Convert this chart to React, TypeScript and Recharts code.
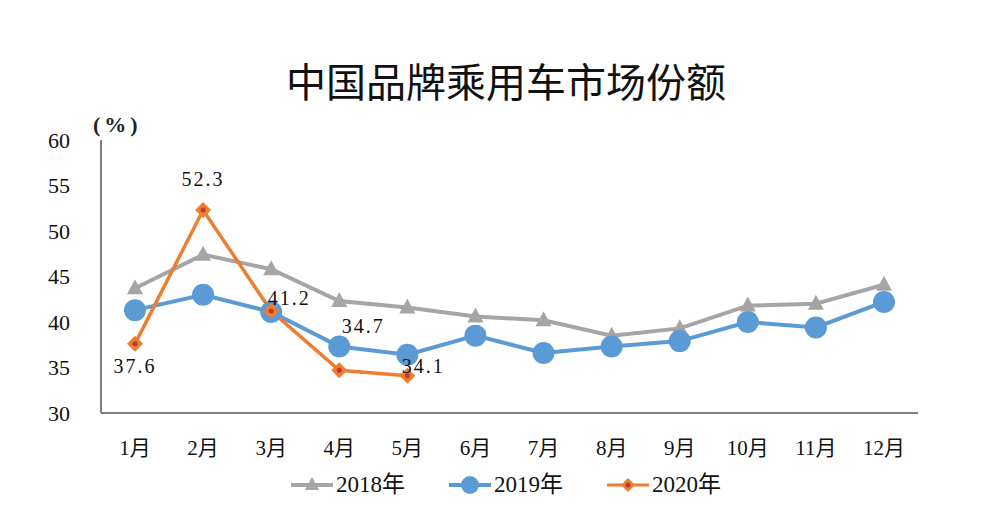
import React from 'react';
import { LineChart, Line, XAxis, YAxis, LabelList } from 'recharts';

const months = ['1月', '2月', '3月', '4月', '5月', '6月', '7月', '8月', '9月', '10月', '11月', '12月'];
const share2018 = [43.7, 47.4, 45.8, 42.3, 41.6, 40.6, 40.2, 38.5, 39.3, 41.8, 42.0, 44.1];
const share2019 = [41.3, 43.0, 41.1, 37.3, 36.4, 38.5, 36.6, 37.3, 37.9, 40.0, 39.4, 42.2];
const share2020 = [37.6, 52.3, 41.2, 34.7, 34.1];
const yTicks = [30, 35, 40, 45, 50, 55, 60];
const seriesNames = ['2018年', '2019年', '2020年'];
const title = '中国品牌乘用车市场份额';
const unitLabel = '(%)';

const data = months.map((m, i) => ({
  month: m,
  s2018: share2018[i],
  s2019: share2019[i],
  s2020: i < share2020.length ? share2020[i] : null,
}));

const GRAY = '#A5A5A5';
const BLUE = '#5B9BD5';
const ORANGE = '#ED7D31';
const SERIF = "'Liberation Serif', 'Noto Sans CJK SC', serif";

const TriangleDot = (props: any) => {
  const { cx, cy } = props;
  if (cx == null || cy == null) return null;
  return <polygon points={`${cx},${cy - 9} ${cx - 8},${cy + 6} ${cx + 8},${cy + 6}`} fill={GRAY} />;
};
const CircleDot = (props: any) => {
  const { cx, cy } = props;
  if (cx == null || cy == null) return null;
  return <circle cx={cx} cy={cy} r={11} fill={BLUE} />;
};
const DiamondDot = (props: any) => {
  const { cx, cy, value } = props;
  if (cx == null || cy == null || value == null) return null;
  return (
    <g>
      <polygon points={`${cx},${cy - 8} ${cx + 8},${cy} ${cx},${cy + 8} ${cx - 8},${cy}`} fill={ORANGE} />
      <circle cx={cx} cy={cy} r={2.5} fill="#C0392B" />
    </g>
  );
};

// label placement relative to each 2020 point (style, not data)
const labelShift = [
  [0, 22],
  [0, -31],
  [18, -13],
  [24, -44],
  [16, -10],
];

const Label2020 = (props: any) => {
  const { x, y, value, index } = props;
  if (value == null || x == null) return null;
  const [dx, dy] = labelShift[index] || [0, -15];
  return (
    <text
      x={x + dx}
      y={y + dy}
      textAnchor="middle"
      dominantBaseline="central"
      fontFamily={SERIF}
      fontSize={20}
      letterSpacing={2}
      fill="#111"
    >
      {Number(value).toFixed(1)}
    </text>
  );
};

const LegendIcon = ({ kind }: { kind: number }) => {
  const color = [GRAY, BLUE, ORANGE][kind];
  return (
    <svg width={42} height={22} style={{ display: 'block' }}>
      <line x1={0} y1={11} x2={42} y2={11} stroke={color} strokeWidth={kind === 2 ? 3 : 4} />
      {kind === 0 && <polygon points="21,3 14,16 28,16" fill={GRAY} />}
      {kind === 1 && <circle cx={21} cy={11} r={9} fill={BLUE} />}
      {kind === 2 && (
        <g>
          <polygon points="21,4 28,11 21,18 14,11" fill={ORANGE} />
          <circle cx={21} cy={11} r={2.5} fill="#C0392B" />
        </g>
      )}
    </svg>
  );
};

export default function App() {
  return (
    <div
      style={{
        position: 'absolute',
        left: 0,
        top: 0,
        width: 1000,
        height: 531,
        background: '#fff',
        overflow: 'hidden',
      }}
    >
      <div
        style={{
          position: 'absolute',
          top: 56,
          left: 6,
          width: 1000,
          textAlign: 'center',
          fontFamily: "'Noto Sans CJK SC', sans-serif",
          fontSize: 40,
          fontWeight: 400,
          lineHeight: '48px',
          color: '#111',
        }}
      >
        {title}
      </div>
      <div
        style={{
          position: 'absolute',
          top: 112,
          left: 93,
          fontFamily: SERIF,
          fontSize: 22,
          fontWeight: 700,
          letterSpacing: 4,
          lineHeight: '26px',
          color: '#222',
        }}
      >
        {unitLabel}
      </div>
      <LineChart
        width={1000}
        height={531}
        data={data}
        margin={{ top: 140, right: 82, bottom: 88, left: 0 }}
      >
        <XAxis
          dataKey="month"
          height={30}
          padding={{ left: 34, right: 34 }}
          tickLine={false}
          tickSize={0}
          tickMargin={27}
          axisLine={{ stroke: '#555', strokeWidth: 1.5 }}
          tick={{ fontFamily: SERIF, fontSize: 21, fill: '#111' }}
          interval={0}
        />
        <YAxis
          width={101}
          domain={[30, 60]}
          ticks={yTicks}
          tickLine={false}
          tickSize={0}
          tickMargin={31}
          axisLine={{ stroke: '#555', strokeWidth: 1.5 }}
          tick={{ fontFamily: SERIF, fontSize: 22, fill: '#111' }}
          interval={0}
        />
        <Line
          dataKey="s2018"
          name={seriesNames[0]}
          stroke={GRAY}
          strokeWidth={4}
          dot={<TriangleDot />}
          activeDot={false}
          isAnimationActive={false}
        />
        <Line
          dataKey="s2019"
          name={seriesNames[1]}
          stroke={BLUE}
          strokeWidth={4}
          dot={<CircleDot />}
          activeDot={false}
          isAnimationActive={false}
        />
        <Line
          dataKey="s2020"
          name={seriesNames[2]}
          stroke={ORANGE}
          strokeWidth={3.5}
          dot={<DiamondDot />}
          activeDot={false}
          isAnimationActive={false}
          connectNulls={false}
        >
          <LabelList dataKey="s2020" content={<Label2020 />} />
        </Line>
      </LineChart>
      <div
        style={{
          position: 'absolute',
          top: 472,
          left: 6,
          width: 1000,
          display: 'flex',
          justifyContent: 'center',
          alignItems: 'center',
          gap: 44,
          fontFamily: SERIF,
          fontSize: 23,
          color: '#111',
        }}
      >
        {seriesNames.map((n, i) => (
          <div key={n} style={{ display: 'flex', alignItems: 'center', gap: 3 }}>
            <LegendIcon kind={i} />
            <span style={{ lineHeight: '26px' }}>{n}</span>
          </div>
        ))}
      </div>
    </div>
  );
}
